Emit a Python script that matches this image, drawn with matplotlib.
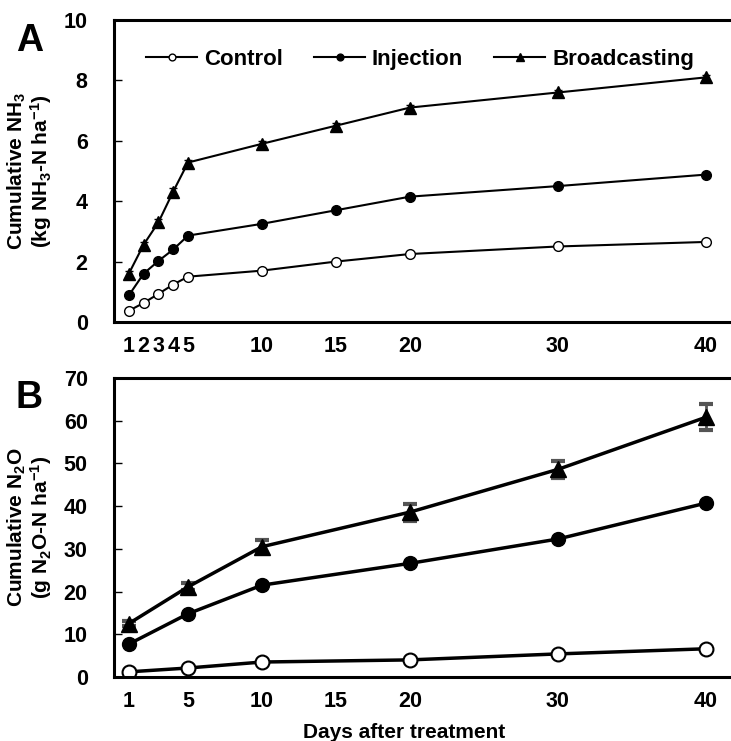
import matplotlib
matplotlib.use("Agg")
import matplotlib.pyplot as plt

plt.rcParams['font.family'] = ['Liberation Sans', 'DejaVu Sans']
plt.rcParams['font.weight'] = 'bold'
plt.rcParams['mathtext.default'] = 'regular'

# panel A: cumulative NH3
days_a = [1, 2, 3, 4, 5, 10, 15, 20, 30, 40]
nh3_control = [0.37, 0.63, 0.93, 1.24, 1.5, 1.7, 2.0, 2.25, 2.5, 2.65]
nh3_injection = [0.88, 1.6, 2.02, 2.4, 2.86, 3.25, 3.7, 4.15, 4.5, 4.88]
nh3_broadcast = [1.6, 2.56, 3.3, 4.32, 5.28, 5.9, 6.5, 7.1, 7.6, 8.1]
nh3_broadcast_err = [0.1, 0.08, 0.12, 0.12, 0.1, 0.1, 0.08, 0.1, 0.08, 0.08]

# panel B: cumulative N2O
days_b = [1, 5, 10, 20, 30, 40]
n2o_control = [1.2, 2.1, 3.5, 4.0, 5.4, 6.6]
n2o_injection = [7.7, 14.8, 21.5, 26.6, 32.3, 40.7]
n2o_broadcast = [12.5, 21.1, 30.5, 38.6, 48.6, 60.8]
n2o_broadcast_err = [0.6, 0.8, 1.5, 2.0, 2.0, 3.0]

fig = plt.figure(figsize=(7.31, 7.41), dpi=100)
ax1 = fig.add_axes([0.156, 0.5655, 0.844, 0.4075])
ax2 = fig.add_axes([0.156, 0.0864, 0.844, 0.4035])


def style_axes(ax):
    ax.spines['right'].set_visible(False)
    for s in ['left', 'bottom', 'top']:
        ax.spines[s].set_linewidth(2.2)
    ax.tick_params(axis='y', direction='in', length=6, width=1, pad=19, labelsize=15.5)
    ax.tick_params(axis='x', length=0, pad=10, labelsize=15.5)
    for lab in ax.get_xticklabels() + ax.get_yticklabels():
        lab.set_fontweight('bold')


# panel A
ax1.plot(days_a, nh3_control, '-o', color='black', lw=1.5, ms=7,
         mfc='white', mec='black', mew=1.0, label='Control')
ax1.plot(days_a, nh3_injection, '-o', color='black', lw=1.5, ms=7,
         label='Injection')
ax1.errorbar(days_a, nh3_broadcast, yerr=nh3_broadcast_err, fmt='none',
             ecolor='black', capsize=3, elinewidth=1)
ax1.plot(days_a, nh3_broadcast, '-^', color='black', lw=1.5, ms=8,
         label='Broadcasting')
ax1.set_xlim(0, 41.7)
ax1.set_ylim(0, 10)
ax1.set_xticks(days_a)
ax1.set_yticks([0, 2, 4, 6, 8, 10])
style_axes(ax1)
ax1.set_ylabel('Cumulative NH$_3$\n(kg NH$_3$-N ha$^{-1}$)', fontsize=15,
               fontweight='bold', linespacing=1.0)
ax1.yaxis.set_label_coords(-0.098, 0.5)
leg = ax1.legend(loc='upper left', bbox_to_anchor=(0.02, 0.97),
                 ncol=3, frameon=False, handlelength=2.3, handletextpad=0.3,
                 columnspacing=1.4, markerscale=0.7, fontsize=16)
for t in leg.get_texts():
    t.set_fontweight('bold')

# panel B
ax2.plot(days_b, n2o_control, '-o', color='black', lw=2.5, ms=10,
         mfc='white', mec='black', mew=1.5)
ax2.plot(days_b, n2o_injection, '-o', color='black', lw=2.5, ms=10)
ax2.errorbar(days_b, n2o_broadcast, yerr=n2o_broadcast_err, fmt='none',
             ecolor='#555555', elinewidth=2, capsize=5, capthick=3)
ax2.plot(days_b, n2o_broadcast, '-^', color='black', lw=2.5, ms=11)
ax2.set_xlim(0, 41.7)
ax2.set_ylim(0, 70)
ax2.set_xticks([1, 5, 10, 15, 20, 30, 40])
ax2.set_yticks(range(0, 71, 10))
style_axes(ax2)
ax2.set_ylabel('Cumulative N$_2$O\n(g N$_2$O-N ha$^{-1}$)', fontsize=15,
               fontweight='bold', linespacing=1.0)
ax2.yaxis.set_label_coords(-0.098, 0.5)
ax2.set_xlabel('Days after treatment', fontsize=15, fontweight='bold')
ax2.xaxis.set_label_coords(0.47, -0.155)

fig.text(0.04, 0.945, 'A', fontsize=27, fontweight='bold', ha='center', va='center')
fig.text(0.04, 0.463, 'B', fontsize=27, fontweight='bold', ha='center', va='center')

fig.savefig('out.png', dpi=100)
